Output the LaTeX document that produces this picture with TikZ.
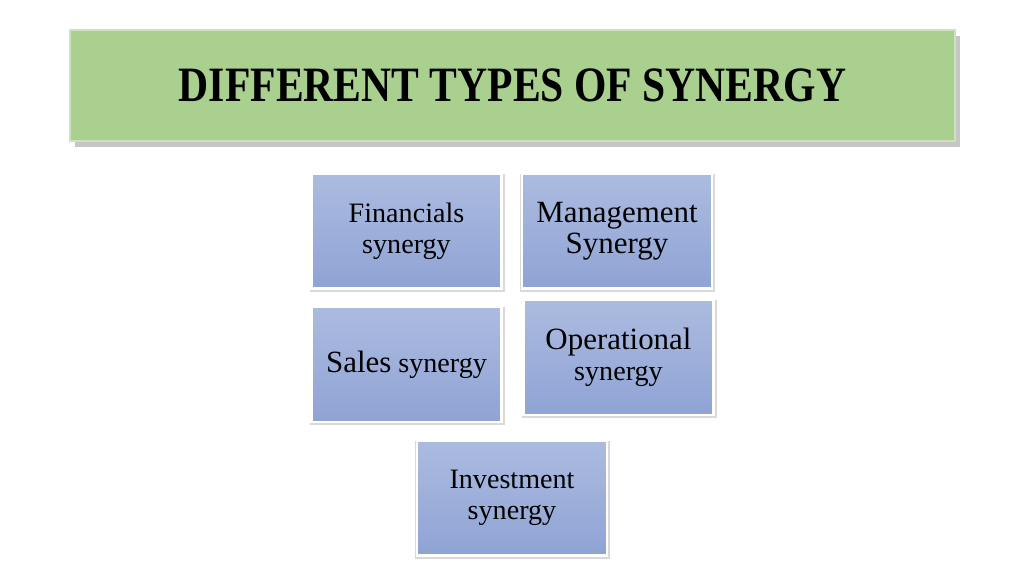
\documentclass[tikz,border=0pt]{standalone}
\usepackage{fontspec}
\setmainfont{Liberation Serif}
\usetikzlibrary{shadows}

\definecolor{titlegreen}{RGB}{169,208,142}
\definecolor{boxtop}{RGB}{172,187,224}
\definecolor{boxbot}{RGB}{143,163,212}

\begin{document}
\begin{tikzpicture}[x=0.025cm,y=-0.025cm,
  titlebox/.style={rectangle, fill=titlegreen, draw=titlegreen!60!white, line width=0.8pt,
    minimum width=885*0.025cm, minimum height=111*0.025cm,
    drop shadow={shadow xshift=1.2mm, shadow yshift=-1.6mm, opacity=0.45}},
  synbox/.style={rectangle, top color=boxtop, bottom color=boxbot, draw=white, line width=1.8pt,
    minimum width=190*0.025cm, minimum height=115*0.025cm, align=center,
    font=\fontsize{20}{22}\selectfont,
    drop shadow={shadow xshift=0.2mm, shadow yshift=-0.4mm, shadow scale=1.025, opacity=0.3}}]
\useasboundingbox (0,0) rectangle (1024,576);

% title
\node[titlebox] (title) at (512.5,85.5) {};
\node (titletxt) at (title.center)
  {\scalebox{0.80}[0.95]{\fontsize{37}{40}\selectfont\bfseries DIFFERENT TYPES OF SYNERGY}};

% the five kinds
\node[synbox] (fin)   at (406.5,231) {Financials\\synergy};
\node[synbox] (mgmt)  at (617,231)   {{\fontsize{22}{22}\selectfont Management}\\{\fontsize{22}{22}\selectfont Synergy}};
\node[synbox] (sales) at (406.5,364.5) {{\fontsize{22}{22}\selectfont Sales} synergy};
\node[synbox] (oper)  at (618.5,357.5) {{\fontsize{22}{22}\selectfont Operational}\\synergy};
\node[synbox] (inv)   at (512,498)   {Investment\\synergy};

\end{tikzpicture}
\end{document}
